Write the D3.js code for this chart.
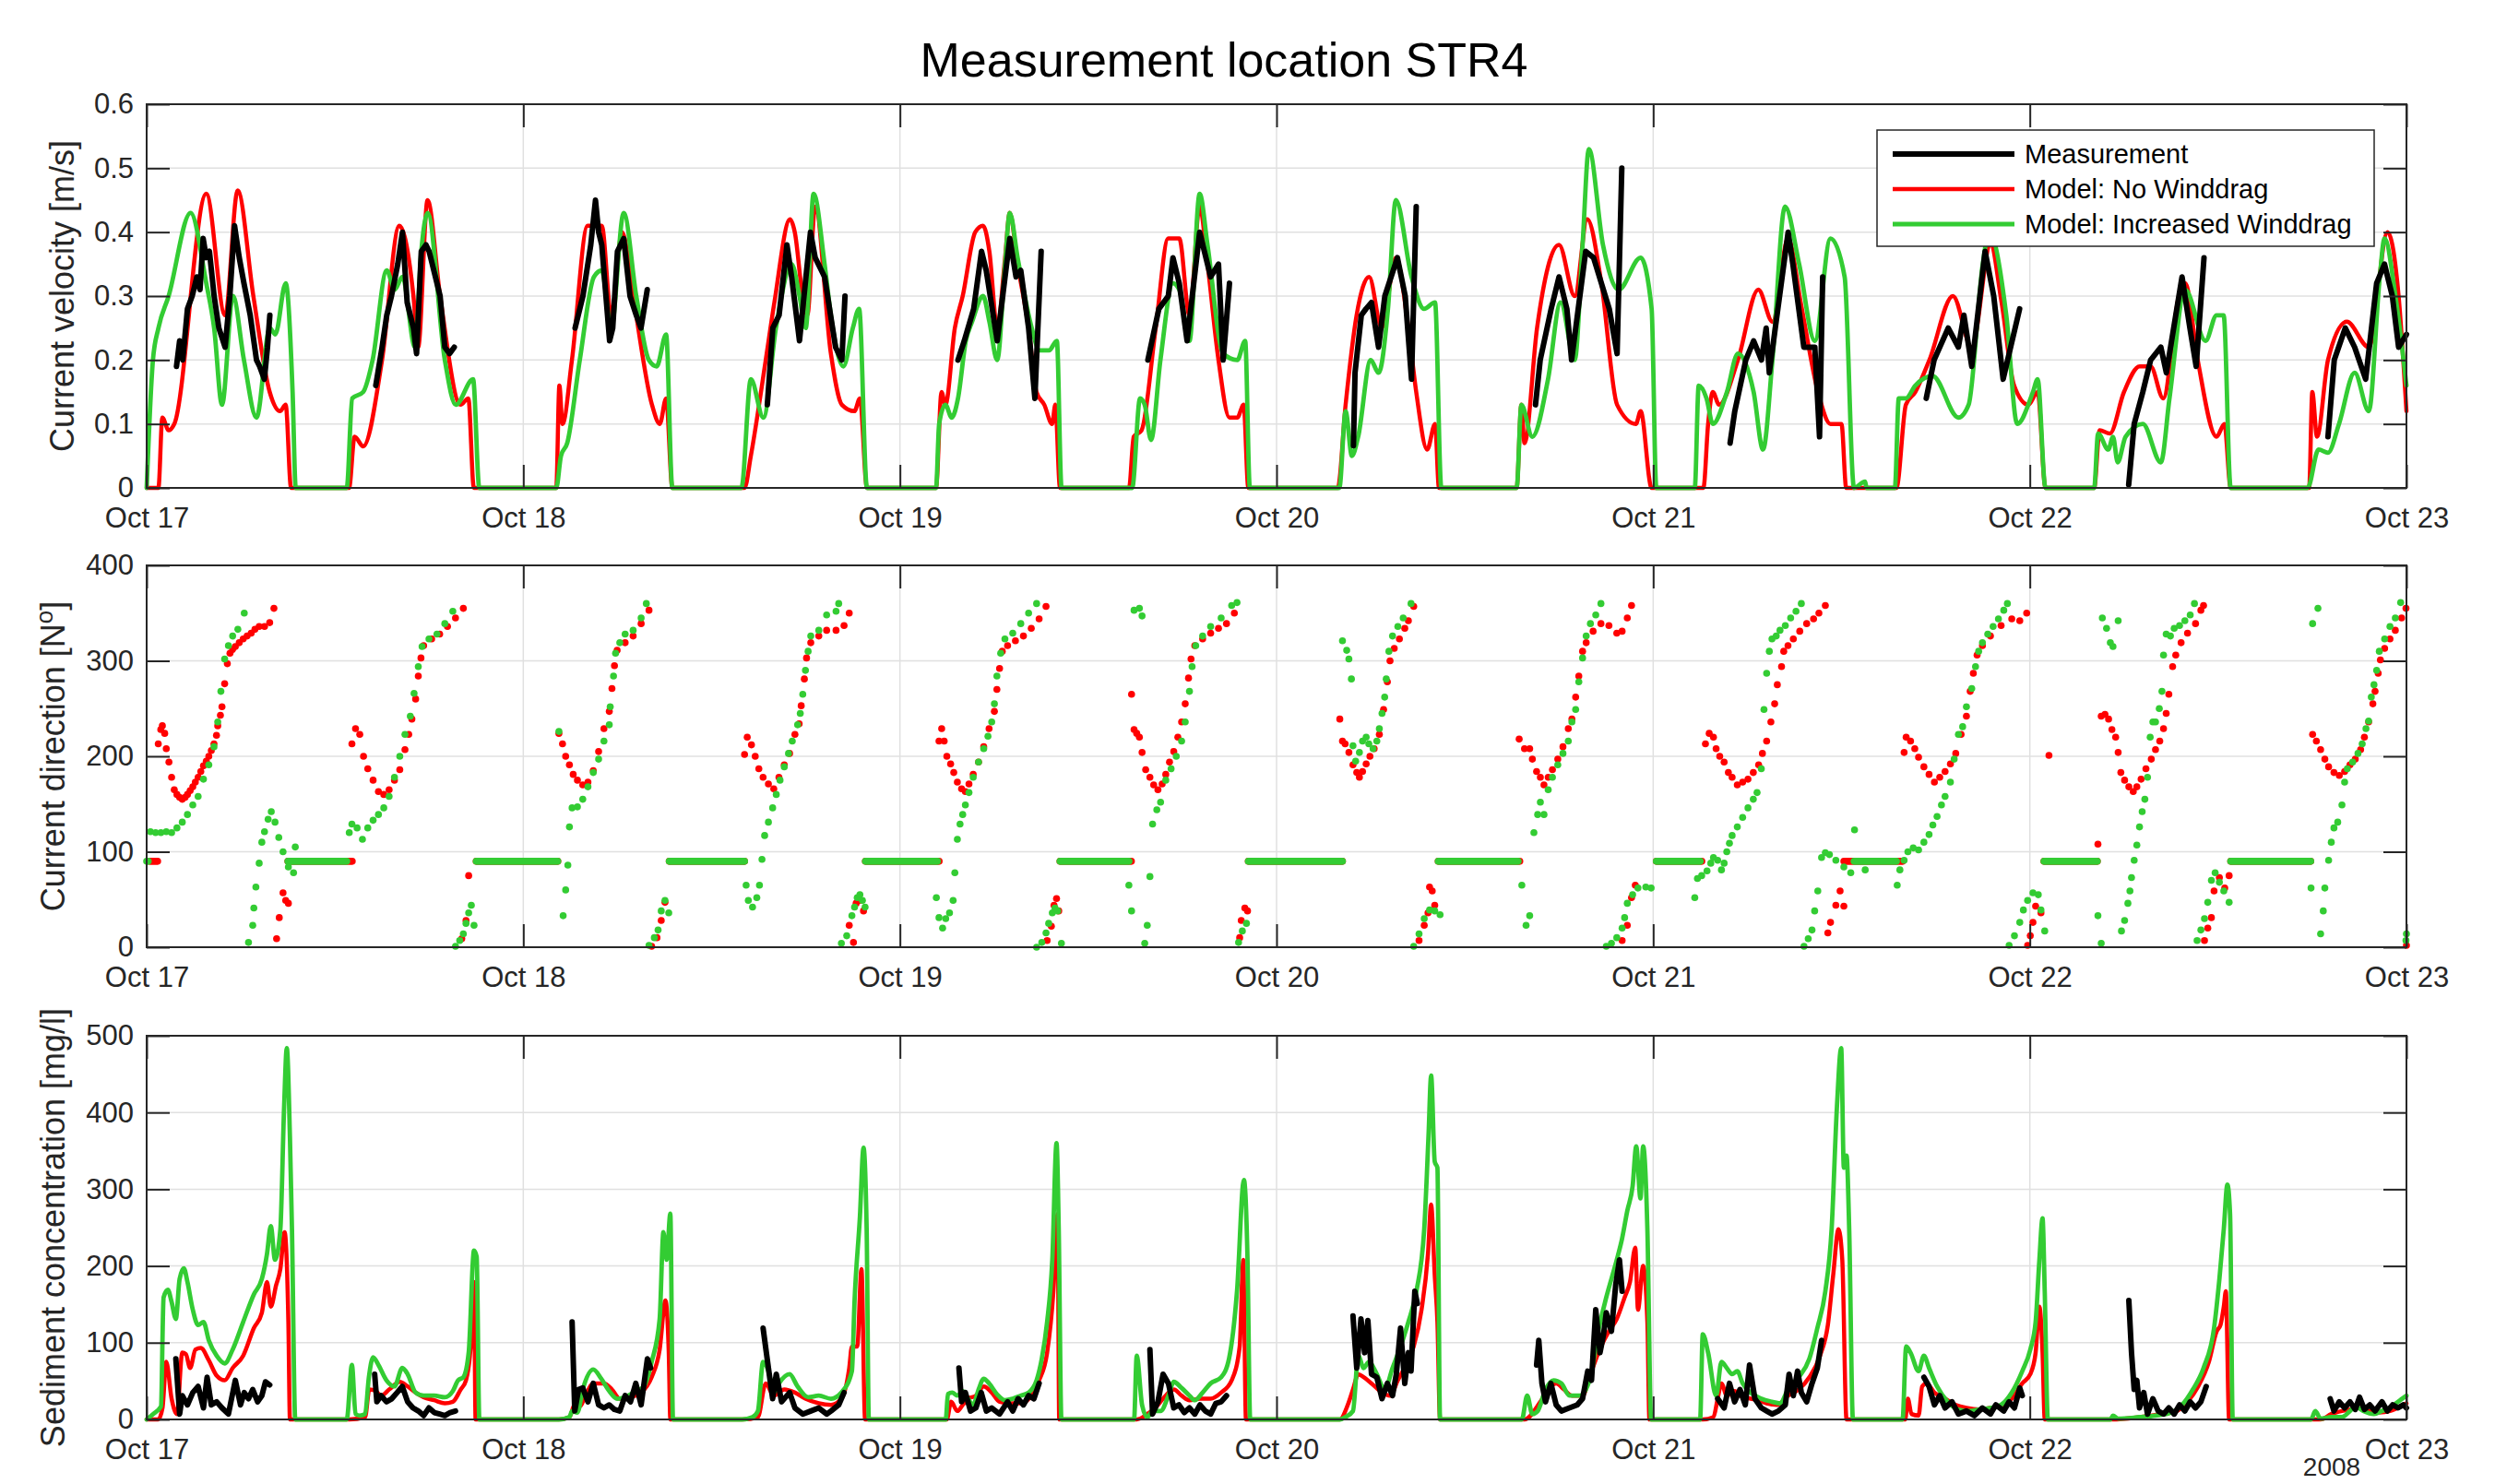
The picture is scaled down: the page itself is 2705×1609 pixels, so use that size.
<!DOCTYPE html>
<html>
<head>
<meta charset="utf-8">
<style>
  body { margin: 0; background: #fff; }
  svg { display: block; font-family: "Liberation Sans", Arial, Helvetica, sans-serif; }
  .grid line { stroke: #e0e0e0; stroke-width: 1.5; }
  .frame { fill: none; stroke: #262626; stroke-width: 2; }
  .axis .domain { display: none; }
  .axis line { stroke: #262626; stroke-width: 2; }
  .axis text { fill: #262626; font-size: 31px; font-family: "Liberation Sans", Arial, sans-serif; }
  .ylab { fill: #262626; font-size: 36px; }
  .series { fill: none; stroke-linejoin: round; stroke-linecap: round; }
</style>
</head>
<body>
<svg width="2705" height="1609"></svg>
<script src="https://d3js.org/d3.v7.min.js"></script>
<script>
// ---- tick labels / categories ----
const dayLabels = ["Oct 17", "Oct 18", "Oct 19", "Oct 20", "Oct 21", "Oct 22", "Oct 23"];
const velTicks = [0, 0.1, 0.2, 0.3, 0.4, 0.5, 0.6];
const dirTicks = [0, 100, 200, 300, 400];
const sedTicks = [0, 100, 200, 300, 400, 500];
const seriesNames = ["Measurement", "Model: No Winddrag", "Model: Increased Winddrag"];

// ---- data: [hours since Oct 17 00:00, value] ----
// current velocity [m/s]
const velMeas = [
  [[1.9,0.19],[2.1,0.23],[2.3,0.2],[2.6,0.28],[2.9,0.3],[3.2,0.33],[3.4,0.31],[3.6,0.39],[3.8,0.36],[4.0,0.37],[4.3,0.3],[4.6,0.25],[5.0,0.22],[5.3,0.3],[5.6,0.41],[5.9,0.36],[6.2,0.32],[6.6,0.27],[7.0,0.2],[7.2,0.19],[7.5,0.17],[7.7,0.22],[7.85,0.27]],
  [[14.6,0.16],[15.0,0.22],[15.3,0.27],[15.6,0.3],[16.0,0.35],[16.3,0.4],[16.6,0.29],[17.0,0.25],[17.2,0.21],[17.5,0.37],[17.8,0.38],[18.0,0.37],[18.7,0.3],[19.0,0.22],[19.3,0.21],[19.6,0.22]],
  [[27.3,0.25],[27.8,0.3],[28.3,0.38],[28.6,0.45],[28.8,0.4],[29.0,0.38],[29.5,0.23],[29.7,0.25],[30.0,0.37],[30.4,0.39],[30.8,0.3],[31.2,0.27],[31.5,0.25],[31.9,0.31]],
  [[39.55,0.13],[39.9,0.25],[40.3,0.27],[40.8,0.38],[41.1,0.33],[41.6,0.23],[42.3,0.4],[42.6,0.36],[43.2,0.33],[43.9,0.22],[44.3,0.2],[44.5,0.3]],
  [[51.7,0.2],[52.1,0.23],[52.7,0.28],[53.2,0.37],[53.5,0.34],[54.2,0.23],[55.0,0.39],[55.4,0.33],[55.7,0.34],[56.2,0.25],[56.6,0.14],[57.0,0.37]],
  [[63.8,0.2],[64.5,0.28],[65.1,0.3],[65.4,0.36],[65.8,0.32],[66.3,0.23],[67.1,0.4],[67.8,0.33],[68.3,0.35],[68.6,0.2],[69.0,0.32]],
  [[76.9,0.066],[77.0,0.18],[77.4,0.27],[77.7,0.28],[78.05,0.29],[78.5,0.22],[78.9,0.3],[79.7,0.36],[80.2,0.3],[80.6,0.17],[80.9,0.44]],
  [[88.5,0.13],[88.8,0.2],[89.5,0.28],[90.0,0.33],[90.5,0.28],[90.8,0.2],[91.7,0.37],[92.2,0.36],[93.2,0.28],[93.7,0.21],[94.0,0.5]],
  [[100.9,0.07],[101.2,0.12],[101.9,0.2],[102.4,0.23],[102.9,0.2],[103.2,0.25],[103.4,0.18],[104.6,0.4],[104.9,0.35],[105.6,0.22],[106.3,0.22],[106.6,0.08],[106.8,0.33]],
  [[113.4,0.14],[113.9,0.2],[114.8,0.25],[115.45,0.22],[115.8,0.27],[116.3,0.19],[117.15,0.37],[117.7,0.3],[118.3,0.17],[119.35,0.28]],
  [[126.3,0.005],[126.65,0.1],[127.2,0.15],[127.7,0.2],[128.35,0.22],[128.7,0.18],[129.7,0.33],[130.2,0.25],[130.6,0.19],[131.1,0.36]],
  [[139.0,0.08],[139.4,0.2],[140.1,0.25],[140.7,0.22],[141.4,0.17],[142.1,0.32],[142.6,0.35],[143.1,0.3],[143.5,0.22],[144,0.24]]
];
const velNoWind = [
  [0,0],[0.75,0],[1.0,0.11],[1.4,0.09],[1.76,0.1],[3.8,0.46],[5.0,0.27],[5.8,0.465],[6.8,0.3],[7.84,0.15],[8.5,0.12],[8.86,0.13],[9.2,0],
  [12.9,0],[13.25,0.08],[13.8,0.065],[15.0,0.2],[16.1,0.41],[17.0,0.3],[17.3,0.22],[17.9,0.45],[18.7,0.3],[20.0,0.13],[20.5,0.14],[20.85,0],
  [26.1,0],[26.3,0.16],[26.5,0.1],[27.1,0.2],[28.1,0.41],[29.0,0.41],[29.6,0.27],[30.3,0.4],[31.0,0.3],[32.2,0.13],[32.7,0.1],[33.1,0.14],[33.5,0],
  [38.1,0],[38.5,0.05],[39.45,0.2],[40.0,0.29],[41.0,0.42],[41.3,0.4],[41.8,0.3],[42.1,0.27],[42.6,0.44],[43.6,0.21],[44.3,0.13],[45.1,0.12],[45.45,0.14],[45.9,0],
  [50.3,0],[50.65,0.15],[50.9,0.13],[51.5,0.25],[52.0,0.3],[52.8,0.4],[53.3,0.41],[53.7,0.37],[54.2,0.25],[54.7,0.36],[55.0,0.43],[55.5,0.35],[56.2,0.25],[56.7,0.15],[57.2,0.13],[57.7,0.1],[57.9,0.13],[58.2,0],
  [62.6,0],[62.9,0.08],[63.4,0.09],[64.3,0.25],[65.1,0.39],[65.8,0.39],[66.45,0.27],[67.1,0.44],[67.6,0.35],[68.3,0.2],[69.0,0.11],[69.5,0.11],[69.9,0.13],[70.2,0],
  [75.9,0],[76.4,0.13],[77.1,0.27],[77.9,0.33],[78.7,0.25],[79.6,0.36],[80.4,0.25],[80.9,0.15],[81.6,0.06],[82.1,0.1],[82.35,0],
  [87.3,0],[87.6,0.13],[87.8,0.07],[88.6,0.25],[90.0,0.38],[91.0,0.3],[91.8,0.42],[92.7,0.32],[93.7,0.13],[94.9,0.1],[95.2,0.12],[95.9,0],
  [99.2,0],[99.5,0.1],[99.8,0.15],[100.2,0.13],[101.4,0.2],[102.7,0.31],[103.6,0.26],[104.6,0.39],[105.4,0.29],[106.5,0.15],[107.3,0.1],[108.0,0.1],[108.3,0],
  [111.5,0],[112.1,0.13],[112.7,0.15],[113.6,0.2],[115.1,0.3],[116.3,0.22],[117.5,0.38],[118.2,0.29],[119.0,0.16],[119.9,0.13],[120.5,0.15],[121.0,0],
  [124.1,0],[124.45,0.09],[125.1,0.085],[126.0,0.15],[127.0,0.19],[127.7,0.19],[128.5,0.14],[129.5,0.3],[129.9,0.32],[130.7,0.2],[131.9,0.08],[132.4,0.1],[132.8,0],
  [137.8,0],[138.0,0.15],[138.3,0.08],[139.0,0.2],[140.2,0.26],[141.6,0.22],[142.8,0.4],[143.5,0.3],[144,0.12]
];
const velWind = [
  [0,0],[0.4,0.2],[0.75,0.25],[1.4,0.3],[2.8,0.43],[3.8,0.32],[4.3,0.25],[4.8,0.13],[5.5,0.3],[6.2,0.2],[7.0,0.11],[7.85,0.25],[8.2,0.24],[8.86,0.32],[9.3,0.15],[9.5,0],
  [12.75,0],[13.1,0.14],[13.8,0.15],[14.4,0.2],[15.3,0.34],[15.8,0.31],[16.3,0.33],[17.1,0.22],[17.5,0.37],[17.9,0.43],[19.0,0.2],[19.7,0.13],[20.8,0.17],[21.2,0],
  [26.1,0],[26.4,0.05],[26.8,0.07],[27.6,0.2],[28.5,0.33],[29.0,0.34],[29.6,0.25],[30.4,0.43],[31.2,0.3],[32.0,0.2],[32.5,0.19],[33.1,0.24],[33.5,0],
  [37.9,0],[38.5,0.17],[39.3,0.11],[40.1,0.25],[41.1,0.35],[41.6,0.3],[42.0,0.25],[42.5,0.46],[43.2,0.35],[43.6,0.27],[44.4,0.19],[45.0,0.25],[45.4,0.28],[45.9,0],
  [50.3,0],[50.5,0.1],[50.9,0.13],[51.3,0.11],[51.7,0.14],[52.2,0.23],[52.6,0.26],[53.3,0.3],[53.7,0.26],[54.2,0.2],[54.7,0.35],[55.0,0.43],[55.5,0.36],[56.4,0.25],[56.9,0.215],[57.5,0.215],[58.0,0.23],[58.3,0],
  [62.8,0],[63.3,0.14],[63.6,0.13],[64.0,0.075],[64.6,0.2],[65.4,0.32],[65.8,0.31],[66.45,0.23],[67.1,0.46],[67.6,0.38],[68.6,0.21],[69.5,0.2],[70.0,0.23],[70.3,0],
  [76.0,0],[76.4,0.12],[76.8,0.05],[77.2,0.08],[78.0,0.2],[78.5,0.18],[79.1,0.28],[79.6,0.45],[80.6,0.33],[81.4,0.28],[82.1,0.29],[82.5,0],
  [87.3,0],[87.6,0.13],[88.3,0.08],[89.3,0.17],[90.1,0.29],[91.0,0.2],[91.5,0.38],[91.9,0.53],[92.8,0.38],[93.8,0.31],[95.2,0.36],[95.9,0.28],[96.2,0],
  [98.65,0],[98.9,0.16],[99.4,0.14],[99.8,0.1],[100.7,0.15],[101.4,0.21],[102.4,0.15],[103.0,0.06],[103.6,0.2],[104.4,0.44],[105.3,0.35],[106.3,0.23],[107.3,0.39],[108.2,0.33],[108.8,0],[109.5,0.01],[109.6,0],
  [111.4,0],[111.65,0.14],[112.1,0.14],[112.7,0.16],[113.8,0.175],[115.45,0.11],[116.1,0.13],[117.0,0.35],[117.4,0.4],[118.5,0.27],[119.2,0.1],[120.2,0.15],[120.5,0.17],[121.0,0],
  [124.1,0],[124.35,0.085],[125.0,0.06],[125.3,0.08],[125.6,0.04],[126.1,0.08],[127.2,0.1],[128.35,0.04],[128.9,0.14],[129.9,0.31],[131.2,0.23],[131.9,0.27],[132.35,0.27],[132.8,0],
  [137.7,0],[138.4,0.06],[139.0,0.055],[139.7,0.1],[140.7,0.18],[141.6,0.12],[142.3,0.33],[142.6,0.39],[143.3,0.3],[144,0.16]
];

// current direction [deg N]; periods of zero current are stored as [from, to, value]
const dirNoWindRest = [[0.2,0.7,90],[9.0,13.1,90],[21.0,26.2,90],[33.3,38.1,90],[45.8,50.5,90],[58.2,62.75,90],[70.2,76.2,90],[82.3,87.5,90],[96.2,99.1,90],[108.15,111.9,90],[120.9,124.3,90],[132.8,137.9,90]];
const dirWindRest = [[0,0.1,90],[9.0,12.75,90],[21.0,26.2,90],[33.3,38.1,90],[45.8,50.4,90],[58.2,62.6,90],[70.2,76.2,90],[82.3,87.4,90],[96.2,99.0,90],[108.8,111.5,90],[120.9,124.3,90],[132.8,137.9,90]];
const dirNoWind = [
  [0.74,213],[0.9,228],[1.0,232],[1.15,224],[1.25,208],[1.42,194],[1.59,178],[1.76,165],[1.93,160],[2.1,157],[2.27,155],[2.45,157],[2.6,160],[2.77,164],[2.94,168],[3.1,173],[3.28,178],[3.45,184],[3.62,190],[3.8,195],[3.96,200],[4.12,206],[4.29,213],[4.45,222],[4.53,232],[4.7,243],[4.8,252],[4.97,276],[5.14,297],[5.31,308],[5.48,312],[5.65,315],[5.9,319],[6.15,323],[6.4,326],[6.66,329],[6.9,333],[7.17,336],[7.51,336],[7.84,340],[8.11,355],
  [8.28,9],[8.45,31],[8.69,57],[8.86,49],[9.03,46],
  [13.08,213],[13.31,229],[13.58,223],[13.82,200],[14.09,187],[14.43,175],[14.77,163],[15.11,160],[15.45,165],[15.79,175],[16.13,186],[16.46,207],[16.7,223],[16.9,239],[17.14,260],[17.31,284],[17.48,303],[17.65,316],[18.16,323],[18.67,328],[19.17,336],[19.68,345],[20.18,355],
  [20.08,9],[20.35,28],[20.52,75],
  [26.27,224],[26.5,213],[26.7,200],[26.94,191],[27.18,181],[27.45,175],[27.79,170],[28.12,173],[28.46,185],[28.8,205],[29.14,229],[29.48,247],[29.65,271],[29.81,295],[29.98,311],[30.49,319],[31.0,326],[31.51,339],[32.01,353],
  [32.18,1],[32.52,10],[32.79,28],[33.03,47],
  [38.1,202],[38.27,220],[38.54,212],[38.78,200],[39.01,187],[39.28,178],[39.62,171],[39.96,166],[40.29,178],[40.63,191],[40.97,203],[41.31,223],[41.58,234],[41.71,253],[41.91,281],[42.05,303],[42.32,319],[42.83,326],[43.33,332],[43.93,332],[44.44,337],[44.77,350],
  [44.77,23],[45.04,5],[45.21,46],[45.45,49],[45.68,38],
  [50.49,216],[50.66,229],[50.82,216],[50.99,200],[51.23,192],[51.43,183],[51.66,173],[51.93,166],[52.17,163],[52.4,171],[52.67,181],[53.01,194],[53.34,210],[53.68,229],[54.02,247],[54.18,270],[54.35,292],[54.52,310],[54.86,316],[55.36,321],[55.87,326],[56.37,334],[56.87,344],[57.31,357],
  [57.38,7],[57.65,22],[57.82,44],[57.98,51],[58.12,38],
  [62.76,265],[62.92,228],[63.09,224],[63.26,220],[63.43,204],[63.66,186],[63.93,178],[64.17,170],[64.44,165],[64.71,171],[64.94,181],[65.18,194],[65.45,205],[65.71,220],[65.95,236],[66.18,255],[66.39,282],[66.55,302],[66.79,316],[67.29,323],[67.8,329],[68.3,334],[68.81,339],[69.31,350],
  [69.65,10],[69.75,28],[69.98,41],[70.15,38],
  [76.03,239],[76.2,216],[76.37,213],[76.61,204],[76.87,191],[77.11,183],[77.28,178],[77.48,184],[77.71,192],[77.95,200],[78.22,208],[78.55,223],[78.82,249],[79.06,278],[79.23,300],[79.5,313],[79.83,323],[80.17,334],[80.4,342],[80.74,357],
  [81.08,7],[81.41,23],[81.65,36],[81.75,63],[81.92,59],[82.08,44],
  [87.46,218],[87.8,208],[88.13,208],[88.3,197],[88.57,184],[88.81,178],[89.04,170],[89.31,178],[89.58,186],[89.92,197],[90.25,210],[90.59,229],[90.82,239],[91.06,262],[91.26,284],[91.5,310],[91.73,319],[92.17,331],[92.67,339],[93.18,337],[93.68,329],[94.02,331],[94.35,345],[94.62,358],
  [94.02,7],[94.35,23],[94.62,52],[94.86,65],
  [99.33,213],[99.57,224],[99.84,220],[100.01,208],[100.24,200],[100.52,194],[100.79,183],[101.03,178],[101.36,170],[101.7,173],[102.04,176],[102.38,183],[102.72,191],[102.96,203],[103.23,216],[103.5,236],[103.74,255],[103.91,275],[104.18,294],[104.32,310],[104.59,316],[104.93,323],[105.34,331],[105.78,339],[106.22,344],[106.56,350],[106.97,358],
  [107.13,15],[107.3,26],[107.64,44],[107.91,59],[108.15,43],
  [111.99,204],[112.12,220],[112.4,216],[112.67,208],[112.91,199],[113.25,189],[113.58,181],[113.92,173],[114.26,178],[114.6,184],[114.94,192],[115.28,203],[115.62,223],[115.96,242],[116.2,268],[116.4,287],[116.64,306],[116.98,316],[117.49,326],[118.17,337],[118.85,344],[119.36,342],[119.8,350],
  [119.86,2],[120.03,12],[120.2,26],[120.37,43],[120.71,36],[121.22,201],[124.34,108],
  [124.55,242],[124.79,244],[125.02,239],[125.23,228],[125.47,220],[125.63,204],[125.8,183],[126.04,175],[126.31,168],[126.59,163],[126.82,168],[127.09,176],[127.4,187],[127.74,197],[128.01,207],[128.28,216],[128.52,229],[128.69,245],[128.86,265],[129.1,294],[129.3,306],[129.64,319],[130.05,329],[130.56,339],[130.9,353],[131.07,358],
  [131.13,7],[131.34,20],[131.57,31],[131.74,59],[132.08,73],[132.42,62],[132.7,75],
  [138.02,223],[138.26,216],[138.53,207],[138.8,197],[139.04,189],[139.38,183],[139.72,180],[140.06,184],[140.4,191],[140.74,197],[141.08,207],[141.32,220],[141.59,236],[141.86,255],[142.0,268],[142.2,287],[142.34,301],[142.61,313],[142.95,323],[143.29,332],[143.69,345],[143.97,355],[144.0,2]
];
const dirWind = [
  [0.24,121],[0.57,120],[0.91,120],[1.25,121],[1.59,120],[1.93,125],[2.27,131],[2.6,139],[2.94,149],[3.28,158],[3.62,176],[3.96,191],[4.29,210],[4.53,236],[4.73,268],[4.97,302],[5.21,316],[5.48,326],[5.81,333],[6.22,350],
  [6.49,5],[6.76,23],[6.83,41],[6.96,63],[7.17,88],[7.34,110],[7.51,121],[7.74,134],[7.94,142],[8.18,131],[8.42,115],[8.69,100],[9.03,84],[9.36,78],[9.47,105],
  [12.91,120],[13.08,129],[13.41,125],[13.75,113],[14.09,125],[14.43,133],[14.77,139],[15.11,146],[15.45,158],[15.79,178],[16.13,200],[16.46,223],[16.8,242],[17.04,266],[17.31,294],[17.55,315],[17.99,323],[18.5,328],[19.0,339],[19.51,352],
  [19.68,1],[19.95,7],[20.18,14],[20.35,25],[20.52,36],[20.69,44],[20.86,23],
  [26.27,226],[26.54,33],[26.7,60],[26.84,86],[26.94,126],[27.11,146],[27.45,147],[27.79,155],[28.12,168],[28.46,183],[28.8,197],[29.14,216],[29.48,233],[29.54,252],[29.75,284],[29.88,308],[30.15,319],[30.49,328],[31.0,332],[31.51,345],[31.84,360],
  [32.01,2],[32.35,10],[32.59,18],[32.79,38],[33.03,49],[33.27,36],
  [38.2,65],[38.34,49],[38.61,42],[38.88,52],[39.05,65],[39.21,92],[39.38,117],[39.62,131],[39.89,146],[40.12,160],[40.36,175],[40.63,189],[40.9,203],[41.14,216],[41.48,233],[41.65,245],[41.81,265],[41.98,290],[42.15,310],[42.32,326],[42.83,332],[43.33,348],[43.93,352],[44.1,360],
  [44.27,4],[44.61,12],[44.94,33],[45.11,42],[45.28,52],[45.45,55],[45.61,49],[45.78,42],
  [50.32,52],[50.49,31],[50.72,20],[50.92,30],[51.16,36],[51.39,49],[51.5,78],[51.66,113],[51.83,129],[52.0,139],[52.17,149],[52.4,162],[52.67,178],[53.01,194],[53.34,208],[53.61,221],[53.85,236],[54.02,255],[54.18,284],[54.42,308],[54.69,323],[55.19,329],[55.7,339],[56.2,350],[56.71,360],
  [56.71,0],[57.04,5],[57.31,15],[57.48,25],[57.71,36],[57.88,41],[58.05,38],[58.29,4],
  [62.59,65],[62.76,38],[62.92,353],[63.26,355],[63.43,347],[63.6,4],[63.76,23],[63.93,74],
  [64.1,129],[64.37,144],[64.61,152],[64.94,175],[65.28,187],[65.61,200],[65.95,216],[66.18,236],[66.45,268],[66.62,294],[66.85,316],[67.29,326],[67.8,336],[68.47,345],[69.14,358],[69.48,361],
  [69.58,5],[69.82,17],[70.08,25],
  [76.2,321],[76.47,311],[76.61,302],[76.77,281],[76.87,211],[77.04,195],[77.28,204],[77.48,216],[77.71,220],[77.88,213],[78.15,208],[78.39,216],[78.55,229],[78.72,245],[78.89,262],[78.99,281],[79.16,310],[79.39,326],[79.73,336],[80.07,345],[80.57,360],
  [80.74,1],[81.08,14],[81.41,30],[81.75,39],[82.08,38],[82.42,34],
  [87.63,65],[87.9,23],[88.13,33],[88.4,120],[88.64,139],[88.81,152],[89.04,139],[89.31,165],[89.58,178],[89.92,191],[90.25,203],[90.59,216],[90.82,236],[91.06,249],[91.26,278],[91.5,303],[91.73,326],[92.0,339],[92.34,348],[92.67,360],
  [93.01,1],[93.34,4],[93.68,10],[94.02,20],[94.18,31],[94.35,46],[94.69,55],[95.03,62],[95.53,63],[95.87,62],
  [98.65,52],[98.82,72],[99.09,75],[99.43,80],[99.67,88],[99.84,94],[100.11,91],[100.35,81],[100.52,88],[100.69,100],[100.86,109],[101.03,117],[101.36,126],[101.7,136],[102.04,146],[102.38,155],[102.62,162],[102.89,187],[103.06,249],[103.23,287],[103.4,310],[103.57,323],[103.84,326],[104.08,332],[104.42,337],[104.76,345],[105.1,352],[105.44,360],
  [105.61,1],[105.88,9],[106.12,18],[106.29,38],[106.49,59],[106.73,94],[106.97,99],[107.23,97],[107.64,91],[108.15,84],[108.59,78],[108.83,123],[109.51,81],
  [111.55,65],[111.72,81],[111.99,91],[112.23,100],[112.57,104],[112.91,102],[113.25,110],[113.58,118],[113.82,128],[114.09,137],[114.37,149],[114.6,158],[114.94,173],[115.18,197],[115.45,223],[115.72,231],[115.96,252],[116.3,271],[116.54,294],[116.74,310],[116.98,319],[117.32,328],[117.66,336],[118.0,344],[118.34,353],[118.57,360],
  [118.68,2],[119.02,12],[119.36,26],[119.59,39],[119.86,49],[120.2,57],[120.54,55],[120.71,39],[120.95,17],
  [124.34,33],[124.55,4],[124.62,345],[124.89,334],[125.13,319],[125.3,315],[125.63,342],[125.84,17],[126.04,28],[126.25,46],[126.38,59],[126.48,73],[126.65,91],[126.82,107],[126.99,126],[127.16,142],[127.33,155],[127.5,178],[127.67,220],[127.84,236],[128.01,236],[128.25,250],[128.42,268],[128.52,306],[128.69,328],[128.96,326],[129.2,334],[129.54,337],[129.88,342],[130.22,348],[130.49,360],
  [130.66,7],[130.9,18],[131.13,30],[131.34,47],[131.57,70],[131.81,78],[132.08,68],[132.36,59],[132.7,47],
  [137.92,62],[138.02,339],[138.36,355],[138.53,14],[138.7,38],[138.8,62],[139.04,91],[139.21,110],[139.38,125],[139.62,131],[139.89,149],[140.06,173],[140.23,187],[140.57,194],[140.91,203],[141.18,213],[141.42,229],[141.59,237],[141.76,262],[141.93,275],[142.1,290],[142.27,310],[142.61,323],[142.95,336],[143.29,345],[143.63,361],[143.97,7],[144.0,14]
];

// sediment concentration [mg/l]
const sedMeas = [
  [[1.86,79],[2.1,7],[2.27,31],[2.6,19],[2.94,35],[3.28,43],[3.62,15],[3.85,55],[4.12,19],[4.46,23],[4.8,15],[5.21,7],[5.65,51],[5.98,19],[6.22,35],[6.49,27],[6.76,39],[7.07,23],[7.34,31],[7.57,49],[7.84,45]],
  [[14.53,59],[14.67,23],[14.94,31],[15.28,23],[15.62,27],[15.96,35],[16.29,43],[16.63,23],[16.97,15],[17.31,11],[17.65,5],[17.99,15],[18.33,9],[18.67,7],[19.0,5],[19.34,9],[19.68,11]],
  [[27.11,127],[27.28,11],[27.52,39],[27.79,41],[28.12,23],[28.46,47],[28.8,19],[29.14,15],[29.48,19],[29.81,13],[30.15,11],[30.49,31],[30.83,23],[31.17,47],[31.51,19],[31.91,79],[32.11,67]],
  [[39.28,119],[39.62,67],[39.89,27],[40.12,59],[40.46,23],[40.97,35],[41.31,15],[41.81,7],[42.32,11],[42.83,15],[43.33,7],[43.61,11],[44.1,19],[44.44,35]],
  [[51.76,67],[51.93,23],[52.17,35],[52.5,11],[52.84,15],[53.18,35],[53.51,11],[53.85,15],[54.35,7],[54.86,23],[55.19,11],[55.53,27],[55.87,19],[56.2,31],[56.54,27],[56.87,47]],
  [[63.93,91],[64.1,7],[64.44,23],[64.77,59],[65.11,47],[65.45,15],[65.78,19],[66.12,9],[66.45,15],[66.79,7],[67.12,19],[67.46,11],[67.8,7],[68.13,21],[68.47,23],[68.81,31]],
  [[76.87,135],[77.11,67],[77.38,131],[77.61,87],[77.82,129],[78.05,59],[78.39,55],[78.72,27],[79.06,47],[79.39,31],[79.63,59],[79.9,119],[80.17,47],[80.4,87],[80.57,63],[80.81,167],[80.97,151]],
  [[88.57,71],[88.71,103],[88.91,47],[89.14,23],[89.48,47],[89.82,19],[90.15,11],[90.66,15],[91.16,19],[91.5,27],[91.83,63],[92.07,51],[92.34,143],[92.61,87],[92.84,111],[93.01,139],[93.34,115],[93.61,175],[93.85,208],[94.02,167]],
  [[100.11,27],[100.52,15],[100.86,47],[101.19,23],[101.53,39],[101.87,19],[102.14,71],[102.48,27],[102.89,15],[103.23,11],[103.57,7],[103.98,11],[104.42,19],[104.66,59],[104.93,31],[105.2,63],[105.44,35],[105.78,23],[106.12,47],[106.46,67],[106.73,103]],
  [[113.25,55],[113.58,43],[113.92,19],[114.26,31],[114.6,15],[115.04,23],[115.45,7],[115.96,11],[116.47,5],[116.98,15],[117.49,7],[117.83,19],[118.34,11],[118.68,23],[119.02,15],[119.36,41],[119.52,31]],
  [[126.31,155],[126.48,87],[126.65,39],[126.82,51],[126.99,15],[127.26,35],[127.5,7],[127.84,27],[128.18,11],[128.52,7],[128.86,15],[129.2,7],[129.54,19],[129.88,11],[130.22,23],[130.56,15],[130.9,23],[131.24,43]],
  [[139.14,27],[139.38,11],[139.72,23],[140.06,15],[140.4,23],[140.74,13],[141.01,29],[141.32,13],[141.66,19],[142.0,11],[142.44,23],[142.78,11],[143.12,19],[143.46,15],[143.8,19],[144,15]]
];
const sedNoWind = [
  [0,0],[0.74,0],[1.01,15],[1.25,75],[1.59,27],[1.93,7],[2.27,87],[2.5,85],[2.77,67],[3.11,91],[3.45,93],[3.96,77],[4.46,57],[4.97,51],[5.48,67],[6.15,83],[6.83,119],[7.34,139],[7.67,179],[7.91,147],[8.25,175],[8.52,196],[8.79,244],[9.03,127],[9.13,0],
  [12.91,0],[13.92,3],[14.19,39],[14.6,37],[14.94,31],[15.45,39],[16.13,49],[16.63,43],[17.14,35],[17.65,29],[18.33,25],[19.0,21],[19.51,23],[20.01,39],[20.35,51],[20.69,107],[20.86,179],[20.96,0],
  [26.27,0],[26.94,3],[27.28,19],[27.62,17],[27.96,31],[28.46,47],[29.14,47],[29.65,39],[30.15,27],[30.83,29],[31.51,35],[32.18,55],[32.69,91],[33.06,155],[33.27,87],[33.37,0],
  [38.0,0],[38.95,3],[39.45,47],[39.96,31],[40.63,39],[41.31,35],[41.98,27],[42.83,21],[43.61,19],[44.27,27],[44.77,67],[44.94,95],[45.28,95],[45.55,196],[45.78,0],
  [50.99,0],[51.26,23],[51.66,11],[52.0,19],[52.34,27],[52.84,31],[53.34,43],[53.85,35],[54.35,23],[55.03,21],[55.7,21],[56.37,31],[56.87,51],[57.38,87],[57.78,167],[58.05,268],[58.15,0],
  [63.09,0],[63.76,7],[64.27,15],[64.77,27],[65.45,39],[65.95,31],[66.45,25],[67.12,27],[67.8,27],[68.47,35],[69.14,51],[69.65,95],[69.88,208],[70.05,0],
  [76.03,0],[76.54,19],[76.87,39],[77.21,59],[77.55,55],[78.05,47],[78.72,35],[79.23,31],[79.73,51],[80.24,71],[80.74,95],[81.24,143],[81.65,216],[81.85,280],[82.08,188],[82.25,127],[82.42,0],
  [87.8,0],[88.81,23],[89.31,39],[89.82,47],[90.32,39],[90.82,31],[91.5,31],[92.0,59],[92.67,95],[93.18,115],[93.68,131],[94.18,159],[94.52,179],[94.86,224],[95.03,143],[95.36,200],[95.63,127],[95.76,0],
  [99.16,0],[99.84,3],[100.11,27],[100.35,47],[100.69,31],[101.19,37],[101.7,29],[102.21,27],[102.72,25],[103.23,21],[103.91,19],[104.59,31],[105.27,39],[105.95,55],[106.63,83],[107.13,123],[107.47,188],[107.81,248],[108.05,208],[108.32,0],
  [112.06,0],[112.23,27],[112.46,7],[112.91,5],[113.14,43],[113.41,47],[113.92,35],[114.6,27],[115.28,19],[115.96,15],[116.81,13],[117.49,15],[118.17,17],[118.85,27],[119.52,47],[120.03,59],[120.37,87],[120.61,147],[120.81,87],[120.95,0],
  [125.3,0],[126.99,3],[128.35,7],[129.37,11],[130.05,23],[130.73,43],[131.41,75],[131.91,115],[132.15,123],[132.36,147],[132.49,167],[132.7,0],
  [138.53,0],[139.21,7],[139.89,11],[140.4,13],[140.91,15],[141.59,11],[142.27,9],[142.95,11],[143.46,15],[144,21]
];
const sedWind = [
  [0,0],[0.41,7],[0.91,17],[1.08,159],[1.35,169],[1.59,153],[1.86,131],[2.1,183],[2.37,197],[2.6,179],[2.94,143],[3.28,123],[3.62,127],[3.96,103],[4.46,83],[4.97,73],[5.48,91],[6.15,127],[6.83,163],[7.34,183],[7.67,216],[7.91,252],[8.18,208],[8.52,248],[8.76,408],[8.93,484],[9.13,368],[9.26,248],[9.47,0],
  [12.75,0],[13.08,71],[13.31,7],[13.58,5],[13.92,7],[14.16,55],[14.43,81],[14.77,71],[15.28,51],[15.79,43],[16.29,67],[16.63,59],[17.14,35],[17.65,31],[18.33,31],[19.0,29],[19.51,37],[19.85,51],[20.18,55],[20.52,87],[20.86,220],[21.03,212],[21.2,0],
  [26.27,0],[26.94,3],[27.11,11],[27.45,9],[27.79,39],[28.46,65],[28.97,53],[29.48,37],[29.98,27],[30.49,29],[31.17,37],[31.68,43],[32.18,75],[32.69,131],[32.93,244],[33.13,208],[33.37,268],[33.54,0],
  [37.93,0],[38.61,3],[38.95,11],[39.28,75],[39.62,63],[39.96,35],[40.29,47],[40.97,59],[41.48,43],[42.15,29],[42.83,31],[43.61,27],[44.27,35],[44.94,63],[45.11,155],[45.45,264],[45.68,354],[45.88,248],[46.02,0],
  [50.92,0],[51.06,33],[51.33,35],[51.66,31],[52.0,37],[52.34,27],[52.67,19],[53.01,39],[53.34,53],[53.68,47],[54.18,33],[54.69,25],[55.19,27],[55.7,31],[56.2,35],[56.71,51],[57.04,79],[57.38,127],[57.71,208],[57.98,360],[58.12,248],[58.29,0],
  [62.92,0],[63.09,83],[63.43,19],[63.76,3],[64.1,11],[64.61,11],[65.11,31],[65.45,49],[65.95,41],[66.45,31],[66.79,25],[67.29,35],[67.8,47],[68.47,55],[68.97,79],[69.48,167],[69.92,312],[70.15,208],[70.32,0],
  [76.03,0],[76.37,3],[76.87,11],[77.21,83],[77.55,67],[77.88,75],[78.39,59],[78.89,39],[79.39,67],[79.9,95],[80.4,127],[80.91,167],[81.41,248],[81.68,368],[81.85,448],[82.08,336],[82.25,328],[82.42,0],
  [87.63,0],[87.97,31],[88.3,7],[88.64,11],[89.14,39],[89.65,51],[90.15,47],[90.66,31],[91.33,31],[92.0,55],[92.5,115],[93.01,159],[93.68,208],[94.02,236],[94.35,272],[94.69,304],[94.92,356],[95.19,288],[95.36,356],[95.63,248],[95.87,0],
  [98.99,0],[99.16,111],[99.5,87],[100.01,31],[100.35,75],[100.69,67],[101.03,59],[101.36,63],[101.7,47],[102.21,35],[102.89,27],[103.57,23],[104.08,21],[104.59,39],[105.27,55],[105.95,79],[106.46,119],[106.97,167],[107.37,248],[107.71,408],[107.98,484],[108.15,328],[108.32,344],[108.49,248],[108.73,0],
  [111.89,0],[112.12,95],[112.4,87],[112.91,63],[113.25,83],[113.58,67],[114.09,43],[114.77,23],[115.45,13],[116.13,11],[116.81,13],[117.49,15],[118.17,19],[118.85,35],[119.52,63],[120.03,91],[120.37,127],[120.61,208],[120.81,262],[120.95,167],[121.15,0],
  [125.13,0],[125.3,5],[125.63,1],[126.99,3],[128.01,5],[129.03,9],[129.71,19],[130.39,39],[131.07,67],[131.74,119],[132.08,183],[132.36,248],[132.59,306],[132.76,268],[132.93,0],
  [137.92,0],[138.19,11],[138.53,1],[139.21,3],[139.89,3],[140.4,11],[140.74,17],[141.25,11],[141.93,7],[142.44,11],[142.95,15],[143.46,23],[144,31]
];

// ---- layout & style ----
const left = 159, right = 2609;
const panels = [
  { top: 113, bottom: 529 },
  { top: 613, bottom: 1027 },
  { top: 1123, bottom: 1539 }
];
const col = { meas: "#000000", noWind: "#ff0000", wind: "#33cc33" };
const lw = { meas: 6, noWind: 4.5, wind: 4.8 };
const tickLen = 25;

const svg = d3.select("svg");
svg.append("rect").attr("width", 2705).attr("height", 1609).attr("fill", "#fff");

const t0 = Date.UTC(2008, 9, 17);
const T = h => new Date(t0 + h * 3600e3);
const x = d3.scaleUtc().domain([T(0), T(144)]).range([left, right]);
const days = d3.utcDay.range(T(0), T(145));

function grid(p, y, ticks) {
  const g = svg.append("g").attr("class", "grid");
  g.selectAll(".gx").data(days).join("line")
    .attr("x1", d => x(d)).attr("x2", d => x(d)).attr("y1", p.top).attr("y2", p.bottom);
  g.selectAll(".gy").data(ticks).join("line")
    .attr("x1", left).attr("x2", right).attr("y1", d => y(d)).attr("y2", d => y(d));
}

function frame(p, y, ticks, fmt) {
  const g = svg.append("g");
  g.append("g").attr("class", "axis").attr("transform", `translate(0,${p.bottom})`)
    .call(d3.axisBottom(x).tickValues(days).tickSizeInner(-tickLen).tickSizeOuter(0).tickPadding(21)
      .tickFormat((d, i) => dayLabels[i]));
  g.append("g").attr("class", "axis").attr("transform", `translate(0,${p.top})`)
    .call(d3.axisTop(x).tickValues(days).tickSizeInner(-tickLen).tickSizeOuter(0).tickFormat(""));
  g.append("g").attr("class", "axis").attr("transform", `translate(${left},0)`)
    .call(d3.axisLeft(y).tickValues(ticks).tickSizeInner(-tickLen).tickSizeOuter(0).tickPadding(14).tickFormat(fmt));
  g.append("g").attr("class", "axis").attr("transform", `translate(${right},0)`)
    .call(d3.axisRight(y).tickValues(ticks).tickSizeInner(-tickLen).tickSizeOuter(0).tickFormat(""));
  g.append("rect").attr("class", "frame")
    .attr("x", left).attr("y", p.top).attr("width", right - left).attr("height", p.bottom - p.top);
}

function ylabel(p, xpos) {
  return svg.append("text").attr("class", "ylab")
    .attr("text-anchor", "middle")
    .attr("transform", `translate(${xpos},${(p.top + p.bottom) / 2}) rotate(-90)`);
}

function lineSeries(y, meas, noWind, wind) {
  const smooth = d3.line().curve(d3.curveMonotoneX).x(d => x(T(d[0]))).y(d => y(d[1]));
  const rough = d3.line().x(d => x(T(d[0]))).y(d => y(d[1]));
  const g = svg.append("g");
  g.append("path").attr("class", "series").attr("d", smooth(noWind)).attr("stroke", col.noWind).attr("stroke-width", lw.noWind);
  g.append("path").attr("class", "series").attr("d", smooth(wind)).attr("stroke", col.wind).attr("stroke-width", lw.wind);
  g.selectAll(".m").data(meas).join("path").attr("class", "series")
    .attr("d", rough).attr("stroke", col.meas).attr("stroke-width", lw.meas);
}

// ---- panel 1: velocity ----
const y1 = d3.scaleLinear().domain([0, 0.6]).range([panels[0].bottom, panels[0].top]);
grid(panels[0], y1, velTicks);
lineSeries(y1, velMeas, velNoWind, velWind);
frame(panels[0], y1, velTicks, d => String(d));
ylabel(panels[0], 80).text("Current velocity [m/s]");

// ---- panel 2: direction ----
const y2 = d3.scaleLinear().domain([0, 400]).range([panels[1].bottom, panels[1].top]);
grid(panels[1], y2, dirTicks);
const p2 = svg.append("g");
function dirSeries(rest, pts, c) {
  p2.append("g").selectAll("line").data(rest).join("line")
    .attr("x1", d => x(T(d[0]))).attr("x2", d => x(T(d[1])))
    .attr("y1", d => y2(d[2])).attr("y2", d => y2(d[2]))
    .attr("stroke", c).attr("stroke-width", 7.6).attr("stroke-linecap", "round");
  p2.append("g").selectAll("circle").data(pts).join("circle")
    .attr("cx", d => x(T(d[0]))).attr("cy", d => y2(d[1])).attr("r", 3.8).attr("fill", c);
}
dirSeries(dirNoWindRest, dirNoWind, col.noWind);
dirSeries(dirWindRest, dirWind, col.wind);
frame(panels[1], y2, dirTicks, d => String(d));
const dl = ylabel(panels[1], 70);
dl.append("tspan").text("Current direction [N");
dl.append("tspan").attr("font-size", "26px").attr("dy", "-13").text("o");
dl.append("tspan").attr("dy", "13").text("]");

// ---- panel 3: sediment ----
const y3 = d3.scaleLinear().domain([0, 500]).range([panels[2].bottom, panels[2].top]);
grid(panels[2], y3, sedTicks);
lineSeries(y3, sedMeas, sedNoWind, sedWind);
frame(panels[2], y3, sedTicks, d => String(d));
ylabel(panels[2], 70).text("Sediment concentration [mg/l]");

// year label under the last tick
svg.append("text").attr("x", 2528).attr("y", 1600).attr("text-anchor", "middle")
  .attr("fill", "#262626").attr("font-size", "28px").text("2008");

// ---- title ----
svg.append("text").attr("x", 1327).attr("y", 83).attr("text-anchor", "middle")
  .attr("fill", "#000").attr("font-size", "52px").text("Measurement location STR4");

// ---- legend ----
const lg = svg.append("g");
lg.append("rect").attr("x", 2035).attr("y", 141).attr("width", 539).attr("height", 126)
  .attr("fill", "#fff").attr("stroke", "#262626").attr("stroke-width", 1.5);
const lgColors = [col.meas, col.noWind, col.wind];
const lgWidths = [lw.meas, lw.noWind, lw.wind];
seriesNames.forEach((name, i) => {
  const yy = 167 + i * 38;
  lg.append("line").attr("x1", 2052).attr("x2", 2184).attr("y1", yy).attr("y2", yy)
    .attr("stroke", lgColors[i]).attr("stroke-width", lgWidths[i]);
  lg.append("text").attr("x", 2195).attr("y", yy).attr("dy", "0.35em")
    .attr("font-size", "29px").attr("fill", "#000").text(name);
});
</script>
</body>
</html>
